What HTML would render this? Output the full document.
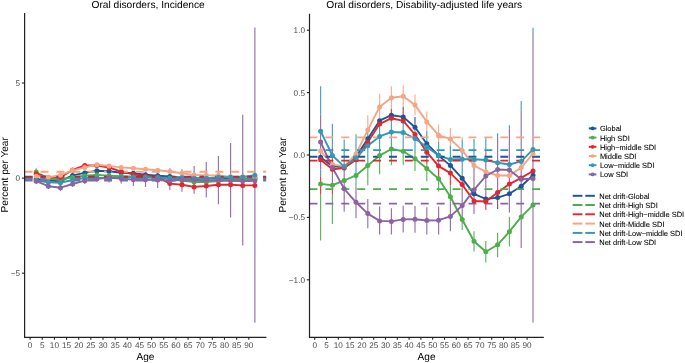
<!DOCTYPE html>
<html><head><meta charset="utf-8">
<style>
html,body{margin:0;padding:0;background:#fff;}
body{width:685px;height:363px;overflow:hidden;}
svg{display:block;will-change:transform;}
text{font-family:"Liberation Sans",sans-serif;text-rendering:geometricPrecision;}
.tk{font-size:8.2px;fill:#4d4d4d;}
.lg{font-size:7.48px;fill:#000;stroke:#000;stroke-width:0.07px;}
.ti{font-size:10.2px;fill:#000;}
.at{font-size:10.1px;fill:#000;}
</style></head><body>
<svg width="685" height="363" viewBox="0 0 685 363">
<rect width="685" height="363" fill="#fff"/>
<defs>
<clipPath id="cl"><rect x="24.6" y="13.1" width="241.8" height="323.7"/></clipPath>
<clipPath id="cr"><rect x="309.5" y="13.7" width="234.3" height="323.3"/></clipPath>
</defs>
<g clip-path="url(#cl)">
<line x1="36.18" y1="168.2" x2="36.18" y2="172.3" stroke="#62b860" stroke-width="1.2"/>
<line x1="36.18" y1="172.3" x2="36.18" y2="174.7" stroke="#e54046" stroke-width="1.2"/>
<line x1="36.18" y1="174.7" x2="36.18" y2="177" stroke="#f6b093" stroke-width="1.2"/>
<line x1="36.18" y1="177" x2="36.18" y2="184" stroke="#9876ad" stroke-width="1.2"/>
<line x1="48.33" y1="179" x2="48.33" y2="180.8" stroke="#62b860" stroke-width="1.2"/>
<line x1="48.33" y1="178.7" x2="48.33" y2="179" stroke="#e54046" stroke-width="1.2"/>
<line x1="48.33" y1="175.7" x2="48.33" y2="178.7" stroke="#f6b093" stroke-width="1.2"/>
<line x1="48.33" y1="180.8" x2="48.33" y2="183" stroke="#4ba5bc" stroke-width="1.2"/>
<line x1="48.33" y1="183" x2="48.33" y2="189" stroke="#9876ad" stroke-width="1.2"/>
<line x1="60.48" y1="178.7" x2="60.48" y2="181.3" stroke="#62b860" stroke-width="1.2"/>
<line x1="60.48" y1="176.7" x2="60.48" y2="178.7" stroke="#e54046" stroke-width="1.2"/>
<line x1="60.48" y1="173.7" x2="60.48" y2="176.7" stroke="#f6b093" stroke-width="1.2"/>
<line x1="60.48" y1="181.3" x2="60.48" y2="184" stroke="#4ba5bc" stroke-width="1.2"/>
<line x1="60.48" y1="184" x2="60.48" y2="191" stroke="#9876ad" stroke-width="1.2"/>
<line x1="72.62" y1="173.9" x2="72.62" y2="175" stroke="#3969a3" stroke-width="1.2"/>
<line x1="72.62" y1="175" x2="72.62" y2="178.5" stroke="#62b860" stroke-width="1.2"/>
<line x1="72.62" y1="168.5" x2="72.62" y2="168.8" stroke="#e54046" stroke-width="1.2"/>
<line x1="72.62" y1="168.8" x2="72.62" y2="171.8" stroke="#f6b093" stroke-width="1.2"/>
<line x1="72.62" y1="178.5" x2="72.62" y2="181" stroke="#4ba5bc" stroke-width="1.2"/>
<line x1="72.62" y1="181" x2="72.62" y2="187" stroke="#9876ad" stroke-width="1.2"/>
<line x1="84.78" y1="171.4" x2="84.78" y2="174.4" stroke="#3969a3" stroke-width="1.2"/>
<line x1="84.78" y1="174.5" x2="84.78" y2="176.5" stroke="#62b860" stroke-width="1.2"/>
<line x1="84.78" y1="164" x2="84.78" y2="165.9" stroke="#e54046" stroke-width="1.2"/>
<line x1="84.78" y1="165.9" x2="84.78" y2="168.9" stroke="#f6b093" stroke-width="1.2"/>
<line x1="84.78" y1="176.5" x2="84.78" y2="179" stroke="#4ba5bc" stroke-width="1.2"/>
<line x1="84.78" y1="179" x2="84.78" y2="184" stroke="#9876ad" stroke-width="1.2"/>
<line x1="96.93" y1="169.3" x2="96.93" y2="172.3" stroke="#3969a3" stroke-width="1.2"/>
<line x1="96.93" y1="173" x2="96.93" y2="176.4" stroke="#62b860" stroke-width="1.2"/>
<line x1="96.93" y1="166.2" x2="96.93" y2="167" stroke="#e54046" stroke-width="1.2"/>
<line x1="96.93" y1="163.2" x2="96.93" y2="166.2" stroke="#f6b093" stroke-width="1.2"/>
<line x1="96.93" y1="176.4" x2="96.93" y2="176.5" stroke="#4ba5bc" stroke-width="1.2"/>
<line x1="96.93" y1="176.5" x2="96.93" y2="182" stroke="#9876ad" stroke-width="1.2"/>
<line x1="109.08" y1="169.7" x2="109.08" y2="172.7" stroke="#3969a3" stroke-width="1.2"/>
<line x1="109.08" y1="174" x2="109.08" y2="175" stroke="#62b860" stroke-width="1.2"/>
<line x1="109.08" y1="167.4" x2="109.08" y2="169" stroke="#e54046" stroke-width="1.2"/>
<line x1="109.08" y1="164.4" x2="109.08" y2="167.4" stroke="#f6b093" stroke-width="1.2"/>
<line x1="109.08" y1="175" x2="109.08" y2="182.6" stroke="#9876ad" stroke-width="1.2"/>
<line x1="121.22" y1="173.1" x2="121.22" y2="173.5" stroke="#3969a3" stroke-width="1.2"/>
<line x1="121.22" y1="170.1" x2="121.22" y2="173.1" stroke="#e54046" stroke-width="1.2"/>
<line x1="121.22" y1="165.9" x2="121.22" y2="168.9" stroke="#f6b093" stroke-width="1.2"/>
<line x1="121.22" y1="173.5" x2="121.22" y2="183.5" stroke="#9876ad" stroke-width="1.2"/>
<line x1="133.38" y1="171.8" x2="133.38" y2="172.9" stroke="#3969a3" stroke-width="1.2"/>
<line x1="133.38" y1="172.9" x2="133.38" y2="173" stroke="#e54046" stroke-width="1.2"/>
<line x1="133.38" y1="166.8" x2="133.38" y2="169.8" stroke="#f6b093" stroke-width="1.2"/>
<line x1="133.38" y1="173" x2="133.38" y2="186" stroke="#9876ad" stroke-width="1.2"/>
<line x1="145.53" y1="167.8" x2="145.53" y2="170.8" stroke="#f6b093" stroke-width="1.2"/>
<line x1="145.53" y1="172.5" x2="145.53" y2="187" stroke="#9876ad" stroke-width="1.2"/>
<line x1="157.68" y1="168.8" x2="157.68" y2="171" stroke="#f6b093" stroke-width="1.2"/>
<line x1="157.68" y1="171" x2="157.68" y2="188" stroke="#9876ad" stroke-width="1.2"/>
<line x1="169.83" y1="168.2" x2="169.83" y2="190" stroke="#9876ad" stroke-width="1.2"/>
<line x1="181.97" y1="169.2" x2="181.97" y2="191.8" stroke="#9876ad" stroke-width="1.2"/>
<line x1="194.12" y1="166" x2="194.12" y2="193.8" stroke="#9876ad" stroke-width="1.2"/>
<line x1="206.28" y1="162.1" x2="206.28" y2="197.5" stroke="#9876ad" stroke-width="1.2"/>
<line x1="218.43" y1="155.9" x2="218.43" y2="204.3" stroke="#9876ad" stroke-width="1.2"/>
<line x1="230.58" y1="143" x2="230.58" y2="217.5" stroke="#9876ad" stroke-width="1.2"/>
<line x1="242.72" y1="114.8" x2="242.72" y2="245.5" stroke="#9876ad" stroke-width="1.2"/>
<line x1="254.88" y1="27.4" x2="254.88" y2="322.7" stroke="#9876ad" stroke-width="1.2"/>
<polyline points="36.18,179 48.33,180.6 60.48,181.2 72.62,175.4 84.78,172.9 96.93,170.8 109.08,171.2 121.22,172.8 133.38,173.3 145.53,174.7 157.68,175.7 169.83,176.5 181.97,177.6 194.12,178.3 206.28,178.5 218.43,178.5 230.58,178.5 242.72,178.5 254.88,178.5" fill="none" stroke="#1e5597" stroke-width="1.9" stroke-linejoin="round"/>
<polyline points="36.18,172 48.33,178.7 60.48,179.5 72.62,177.4 84.78,175.8 96.93,174.9 109.08,175.8 121.22,176.3 133.38,176.5 145.53,177 157.68,178 169.83,179 181.97,180.5 194.12,182 206.28,182 218.43,181 230.58,180 242.72,179 254.88,178.5" fill="none" stroke="#4dae4a" stroke-width="1.9" stroke-linejoin="round"/>
<polyline points="36.18,173.8 48.33,177.5 60.48,177.2 72.62,170 84.78,165.5 96.93,165.5 109.08,167.5 121.22,171.6 133.38,174.4 145.53,176 157.68,176.9 169.83,183.6 181.97,184.7 194.12,186.9 206.28,186 218.43,184.7 230.58,184.8 242.72,185.4 254.88,185.4" fill="none" stroke="#e2262d" stroke-width="1.9" stroke-linejoin="round"/>
<polyline points="36.18,176.2 48.33,177.2 60.48,175.2 72.62,170.3 84.78,167.4 96.93,164.7 109.08,165.9 121.22,167.4 133.38,168.3 145.53,169.3 157.68,170.3 169.83,171.5 181.97,173.2 194.12,175 206.28,175.4 218.43,175.4 230.58,176.6 242.72,176.8 254.88,176.8" fill="none" stroke="#f5a584" stroke-width="1.9" stroke-linejoin="round"/>
<polyline points="36.18,180.5 48.33,182.3 60.48,182.8 72.62,180 84.78,178 96.93,177.9 109.08,177.9 121.22,177.6 133.38,177.2 145.53,177.2 157.68,177.5 169.83,178 181.97,178.1 194.12,178.3 206.28,178.3 218.43,177.3 230.58,177.2 242.72,176.9 254.88,175.2" fill="none" stroke="#3399b3" stroke-width="1.9" stroke-linejoin="round"/>
<polyline points="36.18,181.2 48.33,186.2 60.48,187.7 72.62,184 84.78,180.7 96.93,178.7 109.08,177.8 121.22,178.6 133.38,179.8 145.53,179.8 157.68,180 169.83,180.7 181.97,179.8 194.12,180 206.28,180.2 218.43,180.2 230.58,180.7 242.72,181 254.88,180.7" fill="none" stroke="#8a63a2" stroke-width="1.9" stroke-linejoin="round"/>
<line x1="24.6" y1="176.8" x2="266.4" y2="176.8" stroke="#1e5597" stroke-width="1.9" stroke-dasharray="7.95 7.95"/>
<line x1="24.6" y1="178.3" x2="266.4" y2="178.3" stroke="#4dae4a" stroke-width="1.9" stroke-dasharray="7.95 7.95"/>
<line x1="24.6" y1="177.5" x2="266.4" y2="177.5" stroke="#e2262d" stroke-width="1.9" stroke-dasharray="7.95 7.95"/>
<line x1="24.6" y1="171.8" x2="266.4" y2="171.8" stroke="#f5a584" stroke-width="1.9" stroke-dasharray="7.95 7.95"/>
<line x1="24.6" y1="179.3" x2="266.4" y2="179.3" stroke="#3399b3" stroke-width="1.9" stroke-dasharray="7.95 7.95"/>
<line x1="24.6" y1="180.6" x2="266.4" y2="180.6" stroke="#8a63a2" stroke-width="1.9" stroke-dasharray="7.95 7.95"/>
<circle cx="36.18" cy="179" r="2.5" fill="#1e5597"/>
<circle cx="48.33" cy="180.6" r="2.5" fill="#1e5597"/>
<circle cx="60.48" cy="181.2" r="2.5" fill="#1e5597"/>
<circle cx="72.62" cy="175.4" r="2.5" fill="#1e5597"/>
<circle cx="84.78" cy="172.9" r="2.5" fill="#1e5597"/>
<circle cx="96.93" cy="170.8" r="2.5" fill="#1e5597"/>
<circle cx="109.08" cy="171.2" r="2.5" fill="#1e5597"/>
<circle cx="121.22" cy="172.8" r="2.5" fill="#1e5597"/>
<circle cx="133.38" cy="173.3" r="2.5" fill="#1e5597"/>
<circle cx="145.53" cy="174.7" r="2.5" fill="#1e5597"/>
<circle cx="157.68" cy="175.7" r="2.5" fill="#1e5597"/>
<circle cx="169.83" cy="176.5" r="2.5" fill="#1e5597"/>
<circle cx="181.97" cy="177.6" r="2.5" fill="#1e5597"/>
<circle cx="194.12" cy="178.3" r="2.5" fill="#1e5597"/>
<circle cx="206.28" cy="178.5" r="2.5" fill="#1e5597"/>
<circle cx="218.43" cy="178.5" r="2.5" fill="#1e5597"/>
<circle cx="230.58" cy="178.5" r="2.5" fill="#1e5597"/>
<circle cx="242.72" cy="178.5" r="2.5" fill="#1e5597"/>
<circle cx="254.88" cy="178.5" r="2.5" fill="#1e5597"/>
<circle cx="36.18" cy="172" r="2.5" fill="#4dae4a"/>
<circle cx="48.33" cy="178.7" r="2.5" fill="#4dae4a"/>
<circle cx="60.48" cy="179.5" r="2.5" fill="#4dae4a"/>
<circle cx="72.62" cy="177.4" r="2.5" fill="#4dae4a"/>
<circle cx="84.78" cy="175.8" r="2.5" fill="#4dae4a"/>
<circle cx="96.93" cy="174.9" r="2.5" fill="#4dae4a"/>
<circle cx="109.08" cy="175.8" r="2.5" fill="#4dae4a"/>
<circle cx="121.22" cy="176.3" r="2.5" fill="#4dae4a"/>
<circle cx="133.38" cy="176.5" r="2.5" fill="#4dae4a"/>
<circle cx="145.53" cy="177" r="2.5" fill="#4dae4a"/>
<circle cx="157.68" cy="178" r="2.5" fill="#4dae4a"/>
<circle cx="169.83" cy="179" r="2.5" fill="#4dae4a"/>
<circle cx="181.97" cy="180.5" r="2.5" fill="#4dae4a"/>
<circle cx="194.12" cy="182" r="2.5" fill="#4dae4a"/>
<circle cx="206.28" cy="182" r="2.5" fill="#4dae4a"/>
<circle cx="218.43" cy="181" r="2.5" fill="#4dae4a"/>
<circle cx="230.58" cy="180" r="2.5" fill="#4dae4a"/>
<circle cx="242.72" cy="179" r="2.5" fill="#4dae4a"/>
<circle cx="254.88" cy="178.5" r="2.5" fill="#4dae4a"/>
<circle cx="36.18" cy="173.8" r="2.5" fill="#e2262d"/>
<circle cx="48.33" cy="177.5" r="2.5" fill="#e2262d"/>
<circle cx="60.48" cy="177.2" r="2.5" fill="#e2262d"/>
<circle cx="72.62" cy="170" r="2.5" fill="#e2262d"/>
<circle cx="84.78" cy="165.5" r="2.5" fill="#e2262d"/>
<circle cx="96.93" cy="165.5" r="2.5" fill="#e2262d"/>
<circle cx="109.08" cy="167.5" r="2.5" fill="#e2262d"/>
<circle cx="121.22" cy="171.6" r="2.5" fill="#e2262d"/>
<circle cx="133.38" cy="174.4" r="2.5" fill="#e2262d"/>
<circle cx="145.53" cy="176" r="2.5" fill="#e2262d"/>
<circle cx="157.68" cy="176.9" r="2.5" fill="#e2262d"/>
<circle cx="169.83" cy="183.6" r="2.5" fill="#e2262d"/>
<circle cx="181.97" cy="184.7" r="2.5" fill="#e2262d"/>
<circle cx="194.12" cy="186.9" r="2.5" fill="#e2262d"/>
<circle cx="206.28" cy="186" r="2.5" fill="#e2262d"/>
<circle cx="218.43" cy="184.7" r="2.5" fill="#e2262d"/>
<circle cx="230.58" cy="184.8" r="2.5" fill="#e2262d"/>
<circle cx="242.72" cy="185.4" r="2.5" fill="#e2262d"/>
<circle cx="254.88" cy="185.4" r="2.5" fill="#e2262d"/>
<circle cx="36.18" cy="176.2" r="2.5" fill="#f5a584"/>
<circle cx="48.33" cy="177.2" r="2.5" fill="#f5a584"/>
<circle cx="60.48" cy="175.2" r="2.5" fill="#f5a584"/>
<circle cx="72.62" cy="170.3" r="2.5" fill="#f5a584"/>
<circle cx="84.78" cy="167.4" r="2.5" fill="#f5a584"/>
<circle cx="96.93" cy="164.7" r="2.5" fill="#f5a584"/>
<circle cx="109.08" cy="165.9" r="2.5" fill="#f5a584"/>
<circle cx="121.22" cy="167.4" r="2.5" fill="#f5a584"/>
<circle cx="133.38" cy="168.3" r="2.5" fill="#f5a584"/>
<circle cx="145.53" cy="169.3" r="2.5" fill="#f5a584"/>
<circle cx="157.68" cy="170.3" r="2.5" fill="#f5a584"/>
<circle cx="169.83" cy="171.5" r="2.5" fill="#f5a584"/>
<circle cx="181.97" cy="173.2" r="2.5" fill="#f5a584"/>
<circle cx="194.12" cy="175" r="2.5" fill="#f5a584"/>
<circle cx="206.28" cy="175.4" r="2.5" fill="#f5a584"/>
<circle cx="218.43" cy="175.4" r="2.5" fill="#f5a584"/>
<circle cx="230.58" cy="176.6" r="2.5" fill="#f5a584"/>
<circle cx="242.72" cy="176.8" r="2.5" fill="#f5a584"/>
<circle cx="254.88" cy="176.8" r="2.5" fill="#f5a584"/>
<circle cx="36.18" cy="180.5" r="2.5" fill="#3399b3"/>
<circle cx="48.33" cy="182.3" r="2.5" fill="#3399b3"/>
<circle cx="60.48" cy="182.8" r="2.5" fill="#3399b3"/>
<circle cx="72.62" cy="180" r="2.5" fill="#3399b3"/>
<circle cx="84.78" cy="178" r="2.5" fill="#3399b3"/>
<circle cx="96.93" cy="177.9" r="2.5" fill="#3399b3"/>
<circle cx="109.08" cy="177.9" r="2.5" fill="#3399b3"/>
<circle cx="121.22" cy="177.6" r="2.5" fill="#3399b3"/>
<circle cx="133.38" cy="177.2" r="2.5" fill="#3399b3"/>
<circle cx="145.53" cy="177.2" r="2.5" fill="#3399b3"/>
<circle cx="157.68" cy="177.5" r="2.5" fill="#3399b3"/>
<circle cx="169.83" cy="178" r="2.5" fill="#3399b3"/>
<circle cx="181.97" cy="178.1" r="2.5" fill="#3399b3"/>
<circle cx="194.12" cy="178.3" r="2.5" fill="#3399b3"/>
<circle cx="206.28" cy="178.3" r="2.5" fill="#3399b3"/>
<circle cx="218.43" cy="177.3" r="2.5" fill="#3399b3"/>
<circle cx="230.58" cy="177.2" r="2.5" fill="#3399b3"/>
<circle cx="242.72" cy="176.9" r="2.5" fill="#3399b3"/>
<circle cx="254.88" cy="175.2" r="2.5" fill="#3399b3"/>
<circle cx="36.18" cy="181.2" r="2.5" fill="#8a63a2"/>
<circle cx="48.33" cy="186.2" r="2.5" fill="#8a63a2"/>
<circle cx="60.48" cy="187.7" r="2.5" fill="#8a63a2"/>
<circle cx="72.62" cy="184" r="2.5" fill="#8a63a2"/>
<circle cx="84.78" cy="180.7" r="2.5" fill="#8a63a2"/>
<circle cx="96.93" cy="178.7" r="2.5" fill="#8a63a2"/>
<circle cx="109.08" cy="177.8" r="2.5" fill="#8a63a2"/>
<circle cx="121.22" cy="178.6" r="2.5" fill="#8a63a2"/>
<circle cx="133.38" cy="179.8" r="2.5" fill="#8a63a2"/>
<circle cx="145.53" cy="179.8" r="2.5" fill="#8a63a2"/>
<circle cx="157.68" cy="180" r="2.5" fill="#8a63a2"/>
<circle cx="169.83" cy="180.7" r="2.5" fill="#8a63a2"/>
<circle cx="181.97" cy="179.8" r="2.5" fill="#8a63a2"/>
<circle cx="194.12" cy="180" r="2.5" fill="#8a63a2"/>
<circle cx="206.28" cy="180.2" r="2.5" fill="#8a63a2"/>
<circle cx="218.43" cy="180.2" r="2.5" fill="#8a63a2"/>
<circle cx="230.58" cy="180.7" r="2.5" fill="#8a63a2"/>
<circle cx="242.72" cy="181" r="2.5" fill="#8a63a2"/>
<circle cx="254.88" cy="180.7" r="2.5" fill="#8a63a2"/>
</g>
<g clip-path="url(#cr)">
<line x1="320.6" y1="193.9" x2="320.6" y2="240.4" stroke="#62b860" stroke-width="1.2"/>
<line x1="320.6" y1="176.2" x2="320.6" y2="193.9" stroke="#e54046" stroke-width="1.2"/>
<line x1="320.6" y1="86.2" x2="320.6" y2="114.4" stroke="#4ba5bc" stroke-width="1.2"/>
<line x1="320.6" y1="169.6" x2="320.6" y2="176.2" stroke="#4ba5bc" stroke-width="1.2"/>
<line x1="320.6" y1="114.4" x2="320.6" y2="169.6" stroke="#9876ad" stroke-width="1.2"/>
<line x1="332.4" y1="193.9" x2="332.4" y2="224" stroke="#62b860" stroke-width="1.2"/>
<line x1="332.4" y1="189" x2="332.4" y2="193.9" stroke="#e54046" stroke-width="1.2"/>
<line x1="332.4" y1="123.8" x2="332.4" y2="146.3" stroke="#4ba5bc" stroke-width="1.2"/>
<line x1="332.4" y1="146.3" x2="332.4" y2="189" stroke="#9876ad" stroke-width="1.2"/>
<line x1="344.2" y1="211.6" x2="344.2" y2="211.8" stroke="#62b860" stroke-width="1.2"/>
<line x1="344.2" y1="139.4" x2="344.2" y2="166" stroke="#4ba5bc" stroke-width="1.2"/>
<line x1="344.2" y1="166" x2="344.2" y2="211.6" stroke="#9876ad" stroke-width="1.2"/>
<line x1="356" y1="181.2" x2="356" y2="186.5" stroke="#62b860" stroke-width="1.2"/>
<line x1="356" y1="134" x2="356" y2="134.2" stroke="#f6b093" stroke-width="1.2"/>
<line x1="356" y1="134.2" x2="356" y2="181.2" stroke="#4ba5bc" stroke-width="1.2"/>
<line x1="356" y1="186.5" x2="356" y2="218.2" stroke="#9876ad" stroke-width="1.2"/>
<line x1="367.8" y1="163" x2="367.8" y2="185.2" stroke="#62b860" stroke-width="1.2"/>
<line x1="367.8" y1="115.2" x2="367.8" y2="128" stroke="#f6b093" stroke-width="1.2"/>
<line x1="367.8" y1="128" x2="367.8" y2="163" stroke="#4ba5bc" stroke-width="1.2"/>
<line x1="367.8" y1="199.1" x2="367.8" y2="228.3" stroke="#9876ad" stroke-width="1.2"/>
<line x1="379.6" y1="152" x2="379.6" y2="174.3" stroke="#62b860" stroke-width="1.2"/>
<line x1="379.6" y1="120.1" x2="379.6" y2="121" stroke="#e54046" stroke-width="1.2"/>
<line x1="379.6" y1="93.7" x2="379.6" y2="120.1" stroke="#f6b093" stroke-width="1.2"/>
<line x1="379.6" y1="121" x2="379.6" y2="152" stroke="#4ba5bc" stroke-width="1.2"/>
<line x1="379.6" y1="206.5" x2="379.6" y2="234.6" stroke="#9876ad" stroke-width="1.2"/>
<line x1="391.4" y1="147" x2="391.4" y2="165.2" stroke="#62b860" stroke-width="1.2"/>
<line x1="391.4" y1="109.1" x2="391.4" y2="117" stroke="#e54046" stroke-width="1.2"/>
<line x1="391.4" y1="86.3" x2="391.4" y2="109.1" stroke="#f6b093" stroke-width="1.2"/>
<line x1="391.4" y1="117" x2="391.4" y2="147" stroke="#4ba5bc" stroke-width="1.2"/>
<line x1="391.4" y1="208.2" x2="391.4" y2="234.6" stroke="#9876ad" stroke-width="1.2"/>
<line x1="403.2" y1="107.1" x2="403.2" y2="110" stroke="#3969a3" stroke-width="1.2"/>
<line x1="403.2" y1="148" x2="403.2" y2="165.2" stroke="#62b860" stroke-width="1.2"/>
<line x1="403.2" y1="110" x2="403.2" y2="117" stroke="#e54046" stroke-width="1.2"/>
<line x1="403.2" y1="85.3" x2="403.2" y2="107.1" stroke="#f6b093" stroke-width="1.2"/>
<line x1="403.2" y1="117" x2="403.2" y2="148" stroke="#4ba5bc" stroke-width="1.2"/>
<line x1="403.2" y1="205.7" x2="403.2" y2="232.6" stroke="#9876ad" stroke-width="1.2"/>
<line x1="415" y1="117" x2="415" y2="123" stroke="#3969a3" stroke-width="1.2"/>
<line x1="415" y1="153" x2="415" y2="171" stroke="#62b860" stroke-width="1.2"/>
<line x1="415" y1="123" x2="415" y2="124" stroke="#e54046" stroke-width="1.2"/>
<line x1="415" y1="94.5" x2="415" y2="115.3" stroke="#f6b093" stroke-width="1.2"/>
<line x1="415" y1="124" x2="415" y2="153" stroke="#4ba5bc" stroke-width="1.2"/>
<line x1="415" y1="206" x2="415" y2="232.8" stroke="#9876ad" stroke-width="1.2"/>
<line x1="426.8" y1="164.4" x2="426.8" y2="181.2" stroke="#62b860" stroke-width="1.2"/>
<line x1="426.8" y1="161" x2="426.8" y2="164.4" stroke="#e54046" stroke-width="1.2"/>
<line x1="426.8" y1="111.5" x2="426.8" y2="131" stroke="#f6b093" stroke-width="1.2"/>
<line x1="426.8" y1="131" x2="426.8" y2="161" stroke="#4ba5bc" stroke-width="1.2"/>
<line x1="426.8" y1="207.3" x2="426.8" y2="234.5" stroke="#9876ad" stroke-width="1.2"/>
<line x1="438.6" y1="178.2" x2="438.6" y2="191.6" stroke="#62b860" stroke-width="1.2"/>
<line x1="438.6" y1="169" x2="438.6" y2="178.2" stroke="#e54046" stroke-width="1.2"/>
<line x1="438.6" y1="124.4" x2="438.6" y2="142" stroke="#f6b093" stroke-width="1.2"/>
<line x1="438.6" y1="142" x2="438.6" y2="169" stroke="#4ba5bc" stroke-width="1.2"/>
<line x1="438.6" y1="206.4" x2="438.6" y2="234.5" stroke="#9876ad" stroke-width="1.2"/>
<line x1="450.4" y1="185.2" x2="450.4" y2="201.6" stroke="#62b860" stroke-width="1.2"/>
<line x1="450.4" y1="173.5" x2="450.4" y2="185.2" stroke="#e54046" stroke-width="1.2"/>
<line x1="450.4" y1="128.1" x2="450.4" y2="145.5" stroke="#f6b093" stroke-width="1.2"/>
<line x1="450.4" y1="145.5" x2="450.4" y2="173.5" stroke="#4ba5bc" stroke-width="1.2"/>
<line x1="450.4" y1="201.6" x2="450.4" y2="231.2" stroke="#9876ad" stroke-width="1.2"/>
<line x1="462.2" y1="224.6" x2="462.2" y2="229.9" stroke="#62b860" stroke-width="1.2"/>
<line x1="462.2" y1="178.7" x2="462.2" y2="186.6" stroke="#e54046" stroke-width="1.2"/>
<line x1="462.2" y1="137" x2="462.2" y2="139.9" stroke="#f6b093" stroke-width="1.2"/>
<line x1="462.2" y1="139.9" x2="462.2" y2="178.7" stroke="#4ba5bc" stroke-width="1.2"/>
<line x1="462.2" y1="186.6" x2="462.2" y2="224.6" stroke="#9876ad" stroke-width="1.2"/>
<line x1="474" y1="231.2" x2="474" y2="251.5" stroke="#62b860" stroke-width="1.2"/>
<line x1="474" y1="213.8" x2="474" y2="214" stroke="#e54046" stroke-width="1.2"/>
<line x1="474" y1="139" x2="474" y2="166" stroke="#4ba5bc" stroke-width="1.2"/>
<line x1="474" y1="166" x2="474" y2="213.8" stroke="#9876ad" stroke-width="1.2"/>
<line x1="485.8" y1="209.7" x2="485.8" y2="210" stroke="#3969a3" stroke-width="1.2"/>
<line x1="485.8" y1="240.9" x2="485.8" y2="262.4" stroke="#62b860" stroke-width="1.2"/>
<line x1="485.8" y1="199.7" x2="485.8" y2="209.7" stroke="#e54046" stroke-width="1.2"/>
<line x1="485.8" y1="138.2" x2="485.8" y2="152.3" stroke="#4ba5bc" stroke-width="1.2"/>
<line x1="485.8" y1="152.3" x2="485.8" y2="199.7" stroke="#9876ad" stroke-width="1.2"/>
<line x1="497.6" y1="205" x2="497.6" y2="209" stroke="#3969a3" stroke-width="1.2"/>
<line x1="497.6" y1="232.8" x2="497.6" y2="257.2" stroke="#62b860" stroke-width="1.2"/>
<line x1="497.6" y1="200" x2="497.6" y2="205" stroke="#e54046" stroke-width="1.2"/>
<line x1="497.6" y1="133.3" x2="497.6" y2="139" stroke="#4ba5bc" stroke-width="1.2"/>
<line x1="497.6" y1="139" x2="497.6" y2="200" stroke="#9876ad" stroke-width="1.2"/>
<line x1="509.4" y1="216.8" x2="509.4" y2="246.6" stroke="#62b860" stroke-width="1.2"/>
<line x1="509.4" y1="125.2" x2="509.4" y2="128.2" stroke="#4ba5bc" stroke-width="1.2"/>
<line x1="509.4" y1="128.2" x2="509.4" y2="212.5" stroke="#9876ad" stroke-width="1.2"/>
<line x1="521.2" y1="100.9" x2="521.2" y2="110.5" stroke="#4ba5bc" stroke-width="1.2"/>
<line x1="521.2" y1="110.5" x2="521.2" y2="248" stroke="#9876ad" stroke-width="1.2"/>
<line x1="533" y1="27.8" x2="533" y2="33" stroke="#4ba5bc" stroke-width="1.2"/>
<line x1="533" y1="33" x2="533" y2="322.5" stroke="#9876ad" stroke-width="1.2"/>
<polyline points="320.6,157.2 332.4,166.3 344.2,167.1 356,156.7 367.8,138.7 379.6,120.7 391.4,115.2 403.2,116.9 415,127.3 426.8,143.7 438.6,155.6 450.4,165.6 462.2,178.3 474,193.8 485.8,199 497.6,197.6 509.4,193.8 521.2,186.2 533,175.2" fill="none" stroke="#1e5597" stroke-width="1.9" stroke-linejoin="round"/>
<polyline points="320.6,183.9 332.4,185.2 344.2,180.5 356,175.4 367.8,165.6 379.6,155.6 391.4,149 403.2,151.2 415,158.8 426.8,168.6 438.6,178.8 450.4,196.8 462.2,219.5 474,241.2 485.8,251.7 497.6,244.8 509.4,231.7 521.2,216.9 533,205.1" fill="none" stroke="#4dae4a" stroke-width="1.9" stroke-linejoin="round"/>
<polyline points="320.6,159.7 332.4,169.3 344.2,168 356,159.7 367.8,142 379.6,124.1 391.4,118.2 403.2,120.9 415,134.5 426.8,152.2 438.6,166.1 450.4,173.1 462.2,184.6 474,201 485.8,201.5 497.6,192.5 509.4,184.1 521.2,177.9 533,171" fill="none" stroke="#e2262d" stroke-width="1.9" stroke-linejoin="round"/>
<polyline points="320.6,151 332.4,164.6 344.2,166.3 356,154 367.8,130.1 379.6,106.9 391.4,97.7 403.2,96.2 415,104.9 426.8,121.9 438.6,135.2 450.4,139.1 462.2,150.4 474,165.5 485.8,171.8 497.6,175.5 509.4,175.5 521.2,167.6 533,153.7" fill="none" stroke="#f5a584" stroke-width="1.9" stroke-linejoin="round"/>
<polyline points="320.6,131.2 332.4,155.5 344.2,166.6 356,157.7 367.8,145.7 379.6,136.4 391.4,132 403.2,132.5 415,138.5 426.8,147 438.6,155.4 450.4,159.5 462.2,159.3 474,159.2 485.8,160 497.6,162.7 509.4,164.5 521.2,161.4 533,149.4" fill="none" stroke="#3399b3" stroke-width="1.9" stroke-linejoin="round"/>
<polyline points="320.6,142 332.4,167.6 344.2,188.8 356,202.3 367.8,213.6 379.6,220.9 391.4,221.4 403.2,219.4 415,219.3 426.8,220.5 438.6,220.2 450.4,216.4 462.2,205.6 474,189.9 485.8,176 497.6,169.5 509.4,170 521.2,179.3 533,178.6" fill="none" stroke="#8a63a2" stroke-width="1.9" stroke-linejoin="round"/>
<line x1="309.5" y1="156.7" x2="543.8" y2="156.7" stroke="#1e5597" stroke-width="1.9" stroke-dasharray="7.95 7.95"/>
<line x1="309.5" y1="189.1" x2="543.8" y2="189.1" stroke="#4dae4a" stroke-width="1.9" stroke-dasharray="7.95 7.95"/>
<line x1="309.5" y1="160.6" x2="543.8" y2="160.6" stroke="#e2262d" stroke-width="1.9" stroke-dasharray="7.95 7.95"/>
<line x1="309.5" y1="137.4" x2="543.8" y2="137.4" stroke="#f5a584" stroke-width="1.9" stroke-dasharray="7.95 7.95"/>
<line x1="309.5" y1="150.1" x2="543.8" y2="150.1" stroke="#3399b3" stroke-width="1.9" stroke-dasharray="7.95 7.95"/>
<line x1="309.5" y1="203.6" x2="543.8" y2="203.6" stroke="#8a63a2" stroke-width="1.9" stroke-dasharray="7.95 7.95"/>
<circle cx="320.6" cy="157.2" r="2.5" fill="#1e5597"/>
<circle cx="332.4" cy="166.3" r="2.5" fill="#1e5597"/>
<circle cx="344.2" cy="167.1" r="2.5" fill="#1e5597"/>
<circle cx="356" cy="156.7" r="2.5" fill="#1e5597"/>
<circle cx="367.8" cy="138.7" r="2.5" fill="#1e5597"/>
<circle cx="379.6" cy="120.7" r="2.5" fill="#1e5597"/>
<circle cx="391.4" cy="115.2" r="2.5" fill="#1e5597"/>
<circle cx="403.2" cy="116.9" r="2.5" fill="#1e5597"/>
<circle cx="415" cy="127.3" r="2.5" fill="#1e5597"/>
<circle cx="426.8" cy="143.7" r="2.5" fill="#1e5597"/>
<circle cx="438.6" cy="155.6" r="2.5" fill="#1e5597"/>
<circle cx="450.4" cy="165.6" r="2.5" fill="#1e5597"/>
<circle cx="462.2" cy="178.3" r="2.5" fill="#1e5597"/>
<circle cx="474" cy="193.8" r="2.5" fill="#1e5597"/>
<circle cx="485.8" cy="199" r="2.5" fill="#1e5597"/>
<circle cx="497.6" cy="197.6" r="2.5" fill="#1e5597"/>
<circle cx="509.4" cy="193.8" r="2.5" fill="#1e5597"/>
<circle cx="521.2" cy="186.2" r="2.5" fill="#1e5597"/>
<circle cx="533" cy="175.2" r="2.5" fill="#1e5597"/>
<circle cx="320.6" cy="183.9" r="2.5" fill="#4dae4a"/>
<circle cx="332.4" cy="185.2" r="2.5" fill="#4dae4a"/>
<circle cx="344.2" cy="180.5" r="2.5" fill="#4dae4a"/>
<circle cx="356" cy="175.4" r="2.5" fill="#4dae4a"/>
<circle cx="367.8" cy="165.6" r="2.5" fill="#4dae4a"/>
<circle cx="379.6" cy="155.6" r="2.5" fill="#4dae4a"/>
<circle cx="391.4" cy="149" r="2.5" fill="#4dae4a"/>
<circle cx="403.2" cy="151.2" r="2.5" fill="#4dae4a"/>
<circle cx="415" cy="158.8" r="2.5" fill="#4dae4a"/>
<circle cx="426.8" cy="168.6" r="2.5" fill="#4dae4a"/>
<circle cx="438.6" cy="178.8" r="2.5" fill="#4dae4a"/>
<circle cx="450.4" cy="196.8" r="2.5" fill="#4dae4a"/>
<circle cx="462.2" cy="219.5" r="2.5" fill="#4dae4a"/>
<circle cx="474" cy="241.2" r="2.5" fill="#4dae4a"/>
<circle cx="485.8" cy="251.7" r="2.5" fill="#4dae4a"/>
<circle cx="497.6" cy="244.8" r="2.5" fill="#4dae4a"/>
<circle cx="509.4" cy="231.7" r="2.5" fill="#4dae4a"/>
<circle cx="521.2" cy="216.9" r="2.5" fill="#4dae4a"/>
<circle cx="533" cy="205.1" r="2.5" fill="#4dae4a"/>
<circle cx="320.6" cy="159.7" r="2.5" fill="#e2262d"/>
<circle cx="332.4" cy="169.3" r="2.5" fill="#e2262d"/>
<circle cx="344.2" cy="168" r="2.5" fill="#e2262d"/>
<circle cx="356" cy="159.7" r="2.5" fill="#e2262d"/>
<circle cx="367.8" cy="142" r="2.5" fill="#e2262d"/>
<circle cx="379.6" cy="124.1" r="2.5" fill="#e2262d"/>
<circle cx="391.4" cy="118.2" r="2.5" fill="#e2262d"/>
<circle cx="403.2" cy="120.9" r="2.5" fill="#e2262d"/>
<circle cx="415" cy="134.5" r="2.5" fill="#e2262d"/>
<circle cx="426.8" cy="152.2" r="2.5" fill="#e2262d"/>
<circle cx="438.6" cy="166.1" r="2.5" fill="#e2262d"/>
<circle cx="450.4" cy="173.1" r="2.5" fill="#e2262d"/>
<circle cx="462.2" cy="184.6" r="2.5" fill="#e2262d"/>
<circle cx="474" cy="201" r="2.5" fill="#e2262d"/>
<circle cx="485.8" cy="201.5" r="2.5" fill="#e2262d"/>
<circle cx="497.6" cy="192.5" r="2.5" fill="#e2262d"/>
<circle cx="509.4" cy="184.1" r="2.5" fill="#e2262d"/>
<circle cx="521.2" cy="177.9" r="2.5" fill="#e2262d"/>
<circle cx="533" cy="171" r="2.5" fill="#e2262d"/>
<circle cx="320.6" cy="151" r="2.5" fill="#f5a584"/>
<circle cx="332.4" cy="164.6" r="2.5" fill="#f5a584"/>
<circle cx="344.2" cy="166.3" r="2.5" fill="#f5a584"/>
<circle cx="356" cy="154" r="2.5" fill="#f5a584"/>
<circle cx="367.8" cy="130.1" r="2.5" fill="#f5a584"/>
<circle cx="379.6" cy="106.9" r="2.5" fill="#f5a584"/>
<circle cx="391.4" cy="97.7" r="2.5" fill="#f5a584"/>
<circle cx="403.2" cy="96.2" r="2.5" fill="#f5a584"/>
<circle cx="415" cy="104.9" r="2.5" fill="#f5a584"/>
<circle cx="426.8" cy="121.9" r="2.5" fill="#f5a584"/>
<circle cx="438.6" cy="135.2" r="2.5" fill="#f5a584"/>
<circle cx="450.4" cy="139.1" r="2.5" fill="#f5a584"/>
<circle cx="462.2" cy="150.4" r="2.5" fill="#f5a584"/>
<circle cx="474" cy="165.5" r="2.5" fill="#f5a584"/>
<circle cx="485.8" cy="171.8" r="2.5" fill="#f5a584"/>
<circle cx="497.6" cy="175.5" r="2.5" fill="#f5a584"/>
<circle cx="509.4" cy="175.5" r="2.5" fill="#f5a584"/>
<circle cx="521.2" cy="167.6" r="2.5" fill="#f5a584"/>
<circle cx="533" cy="153.7" r="2.5" fill="#f5a584"/>
<circle cx="320.6" cy="131.2" r="2.5" fill="#3399b3"/>
<circle cx="332.4" cy="155.5" r="2.5" fill="#3399b3"/>
<circle cx="344.2" cy="166.6" r="2.5" fill="#3399b3"/>
<circle cx="356" cy="157.7" r="2.5" fill="#3399b3"/>
<circle cx="367.8" cy="145.7" r="2.5" fill="#3399b3"/>
<circle cx="379.6" cy="136.4" r="2.5" fill="#3399b3"/>
<circle cx="391.4" cy="132" r="2.5" fill="#3399b3"/>
<circle cx="403.2" cy="132.5" r="2.5" fill="#3399b3"/>
<circle cx="415" cy="138.5" r="2.5" fill="#3399b3"/>
<circle cx="426.8" cy="147" r="2.5" fill="#3399b3"/>
<circle cx="438.6" cy="155.4" r="2.5" fill="#3399b3"/>
<circle cx="450.4" cy="159.5" r="2.5" fill="#3399b3"/>
<circle cx="462.2" cy="159.3" r="2.5" fill="#3399b3"/>
<circle cx="474" cy="159.2" r="2.5" fill="#3399b3"/>
<circle cx="485.8" cy="160" r="2.5" fill="#3399b3"/>
<circle cx="497.6" cy="162.7" r="2.5" fill="#3399b3"/>
<circle cx="509.4" cy="164.5" r="2.5" fill="#3399b3"/>
<circle cx="521.2" cy="161.4" r="2.5" fill="#3399b3"/>
<circle cx="533" cy="149.4" r="2.5" fill="#3399b3"/>
<circle cx="320.6" cy="142" r="2.5" fill="#8a63a2"/>
<circle cx="332.4" cy="167.6" r="2.5" fill="#8a63a2"/>
<circle cx="344.2" cy="188.8" r="2.5" fill="#8a63a2"/>
<circle cx="356" cy="202.3" r="2.5" fill="#8a63a2"/>
<circle cx="367.8" cy="213.6" r="2.5" fill="#8a63a2"/>
<circle cx="379.6" cy="220.9" r="2.5" fill="#8a63a2"/>
<circle cx="391.4" cy="221.4" r="2.5" fill="#8a63a2"/>
<circle cx="403.2" cy="219.4" r="2.5" fill="#8a63a2"/>
<circle cx="415" cy="219.3" r="2.5" fill="#8a63a2"/>
<circle cx="426.8" cy="220.5" r="2.5" fill="#8a63a2"/>
<circle cx="438.6" cy="220.2" r="2.5" fill="#8a63a2"/>
<circle cx="450.4" cy="216.4" r="2.5" fill="#8a63a2"/>
<circle cx="462.2" cy="205.6" r="2.5" fill="#8a63a2"/>
<circle cx="474" cy="189.9" r="2.5" fill="#8a63a2"/>
<circle cx="485.8" cy="176" r="2.5" fill="#8a63a2"/>
<circle cx="497.6" cy="169.5" r="2.5" fill="#8a63a2"/>
<circle cx="509.4" cy="170" r="2.5" fill="#8a63a2"/>
<circle cx="521.2" cy="179.3" r="2.5" fill="#8a63a2"/>
<circle cx="533" cy="178.6" r="2.5" fill="#8a63a2"/>
</g>
<path d="M24.6 13.1V337.4H266.4" fill="none" stroke="#222" stroke-width="1.2"/>
<line x1="21.9" y1="83" x2="24.6" y2="83" stroke="#222" stroke-width="1.1"/>
<text x="20.1" y="85.9" text-anchor="end" class="tk">5</text>
<line x1="21.9" y1="178.1" x2="24.6" y2="178.1" stroke="#222" stroke-width="1.1"/>
<text x="20.1" y="181" text-anchor="end" class="tk">0</text>
<line x1="21.9" y1="273.2" x2="24.6" y2="273.2" stroke="#222" stroke-width="1.1"/>
<text x="20.1" y="276.1" text-anchor="end" class="tk">&#8722;5</text>
<line x1="30.1" y1="337.4" x2="30.1" y2="339.8" stroke="#222" stroke-width="1.1"/>
<text x="30.1" y="347.8" text-anchor="middle" class="tk">0</text>
<line x1="42.25" y1="337.4" x2="42.25" y2="339.8" stroke="#222" stroke-width="1.1"/>
<text x="42.25" y="347.8" text-anchor="middle" class="tk">5</text>
<line x1="54.4" y1="337.4" x2="54.4" y2="339.8" stroke="#222" stroke-width="1.1"/>
<text x="54.4" y="347.8" text-anchor="middle" class="tk">10</text>
<line x1="66.55" y1="337.4" x2="66.55" y2="339.8" stroke="#222" stroke-width="1.1"/>
<text x="66.55" y="347.8" text-anchor="middle" class="tk">15</text>
<line x1="78.7" y1="337.4" x2="78.7" y2="339.8" stroke="#222" stroke-width="1.1"/>
<text x="78.7" y="347.8" text-anchor="middle" class="tk">20</text>
<line x1="90.85" y1="337.4" x2="90.85" y2="339.8" stroke="#222" stroke-width="1.1"/>
<text x="90.85" y="347.8" text-anchor="middle" class="tk">25</text>
<line x1="103" y1="337.4" x2="103" y2="339.8" stroke="#222" stroke-width="1.1"/>
<text x="103" y="347.8" text-anchor="middle" class="tk">30</text>
<line x1="115.15" y1="337.4" x2="115.15" y2="339.8" stroke="#222" stroke-width="1.1"/>
<text x="115.15" y="347.8" text-anchor="middle" class="tk">35</text>
<line x1="127.3" y1="337.4" x2="127.3" y2="339.8" stroke="#222" stroke-width="1.1"/>
<text x="127.3" y="347.8" text-anchor="middle" class="tk">40</text>
<line x1="139.45" y1="337.4" x2="139.45" y2="339.8" stroke="#222" stroke-width="1.1"/>
<text x="139.45" y="347.8" text-anchor="middle" class="tk">45</text>
<line x1="151.6" y1="337.4" x2="151.6" y2="339.8" stroke="#222" stroke-width="1.1"/>
<text x="151.6" y="347.8" text-anchor="middle" class="tk">50</text>
<line x1="163.75" y1="337.4" x2="163.75" y2="339.8" stroke="#222" stroke-width="1.1"/>
<text x="163.75" y="347.8" text-anchor="middle" class="tk">55</text>
<line x1="175.9" y1="337.4" x2="175.9" y2="339.8" stroke="#222" stroke-width="1.1"/>
<text x="175.9" y="347.8" text-anchor="middle" class="tk">60</text>
<line x1="188.05" y1="337.4" x2="188.05" y2="339.8" stroke="#222" stroke-width="1.1"/>
<text x="188.05" y="347.8" text-anchor="middle" class="tk">65</text>
<line x1="200.2" y1="337.4" x2="200.2" y2="339.8" stroke="#222" stroke-width="1.1"/>
<text x="200.2" y="347.8" text-anchor="middle" class="tk">70</text>
<line x1="212.35" y1="337.4" x2="212.35" y2="339.8" stroke="#222" stroke-width="1.1"/>
<text x="212.35" y="347.8" text-anchor="middle" class="tk">75</text>
<line x1="224.5" y1="337.4" x2="224.5" y2="339.8" stroke="#222" stroke-width="1.1"/>
<text x="224.5" y="347.8" text-anchor="middle" class="tk">80</text>
<line x1="236.65" y1="337.4" x2="236.65" y2="339.8" stroke="#222" stroke-width="1.1"/>
<text x="236.65" y="347.8" text-anchor="middle" class="tk">85</text>
<line x1="248.8" y1="337.4" x2="248.8" y2="339.8" stroke="#222" stroke-width="1.1"/>
<text x="248.8" y="347.8" text-anchor="middle" class="tk">90</text>
<path d="M309.5 13.7V337.4H543.8" fill="none" stroke="#222" stroke-width="1.2"/>
<line x1="306.8" y1="30.2" x2="309.5" y2="30.2" stroke="#222" stroke-width="1.1"/>
<text x="305" y="33.1" text-anchor="end" class="tk">1.0</text>
<line x1="306.8" y1="92.6" x2="309.5" y2="92.6" stroke="#222" stroke-width="1.1"/>
<text x="305" y="95.5" text-anchor="end" class="tk">0.5</text>
<line x1="306.8" y1="155" x2="309.5" y2="155" stroke="#222" stroke-width="1.1"/>
<text x="305" y="157.9" text-anchor="end" class="tk">0.0</text>
<line x1="306.8" y1="217.4" x2="309.5" y2="217.4" stroke="#222" stroke-width="1.1"/>
<text x="305" y="220.3" text-anchor="end" class="tk">&#8722;0.5</text>
<line x1="306.8" y1="279.8" x2="309.5" y2="279.8" stroke="#222" stroke-width="1.1"/>
<text x="305" y="282.7" text-anchor="end" class="tk">&#8722;1.0</text>
<line x1="314.7" y1="337.4" x2="314.7" y2="339.8" stroke="#222" stroke-width="1.1"/>
<text x="314.7" y="347.8" text-anchor="middle" class="tk">0</text>
<line x1="326.5" y1="337.4" x2="326.5" y2="339.8" stroke="#222" stroke-width="1.1"/>
<text x="326.5" y="347.8" text-anchor="middle" class="tk">5</text>
<line x1="338.3" y1="337.4" x2="338.3" y2="339.8" stroke="#222" stroke-width="1.1"/>
<text x="338.3" y="347.8" text-anchor="middle" class="tk">10</text>
<line x1="350.1" y1="337.4" x2="350.1" y2="339.8" stroke="#222" stroke-width="1.1"/>
<text x="350.1" y="347.8" text-anchor="middle" class="tk">15</text>
<line x1="361.9" y1="337.4" x2="361.9" y2="339.8" stroke="#222" stroke-width="1.1"/>
<text x="361.9" y="347.8" text-anchor="middle" class="tk">20</text>
<line x1="373.7" y1="337.4" x2="373.7" y2="339.8" stroke="#222" stroke-width="1.1"/>
<text x="373.7" y="347.8" text-anchor="middle" class="tk">25</text>
<line x1="385.5" y1="337.4" x2="385.5" y2="339.8" stroke="#222" stroke-width="1.1"/>
<text x="385.5" y="347.8" text-anchor="middle" class="tk">30</text>
<line x1="397.3" y1="337.4" x2="397.3" y2="339.8" stroke="#222" stroke-width="1.1"/>
<text x="397.3" y="347.8" text-anchor="middle" class="tk">35</text>
<line x1="409.1" y1="337.4" x2="409.1" y2="339.8" stroke="#222" stroke-width="1.1"/>
<text x="409.1" y="347.8" text-anchor="middle" class="tk">40</text>
<line x1="420.9" y1="337.4" x2="420.9" y2="339.8" stroke="#222" stroke-width="1.1"/>
<text x="420.9" y="347.8" text-anchor="middle" class="tk">45</text>
<line x1="432.7" y1="337.4" x2="432.7" y2="339.8" stroke="#222" stroke-width="1.1"/>
<text x="432.7" y="347.8" text-anchor="middle" class="tk">50</text>
<line x1="444.5" y1="337.4" x2="444.5" y2="339.8" stroke="#222" stroke-width="1.1"/>
<text x="444.5" y="347.8" text-anchor="middle" class="tk">55</text>
<line x1="456.3" y1="337.4" x2="456.3" y2="339.8" stroke="#222" stroke-width="1.1"/>
<text x="456.3" y="347.8" text-anchor="middle" class="tk">60</text>
<line x1="468.1" y1="337.4" x2="468.1" y2="339.8" stroke="#222" stroke-width="1.1"/>
<text x="468.1" y="347.8" text-anchor="middle" class="tk">65</text>
<line x1="479.9" y1="337.4" x2="479.9" y2="339.8" stroke="#222" stroke-width="1.1"/>
<text x="479.9" y="347.8" text-anchor="middle" class="tk">70</text>
<line x1="491.7" y1="337.4" x2="491.7" y2="339.8" stroke="#222" stroke-width="1.1"/>
<text x="491.7" y="347.8" text-anchor="middle" class="tk">75</text>
<line x1="503.5" y1="337.4" x2="503.5" y2="339.8" stroke="#222" stroke-width="1.1"/>
<text x="503.5" y="347.8" text-anchor="middle" class="tk">80</text>
<line x1="515.3" y1="337.4" x2="515.3" y2="339.8" stroke="#222" stroke-width="1.1"/>
<text x="515.3" y="347.8" text-anchor="middle" class="tk">85</text>
<line x1="527.1" y1="337.4" x2="527.1" y2="339.8" stroke="#222" stroke-width="1.1"/>
<text x="527.1" y="347.8" text-anchor="middle" class="tk">90</text>
<text x="91.5" y="7.9" class="ti">Oral disorders, Incidence</text>
<text x="326.3" y="7.9" class="ti">Oral disorders, Disability-adjusted life years</text>
<text x="145.5" y="359.8" text-anchor="middle" class="at">Age</text>
<text x="426.6" y="359.8" text-anchor="middle" class="at">Age</text>
<text transform="translate(8.4,174.8) rotate(-90)" text-anchor="middle" class="at">Percent per Year</text>
<text transform="translate(285.9,174.9) rotate(-90)" text-anchor="middle" class="at">Percent per Year</text>
<line x1="588.8" y1="128.4" x2="596.4" y2="128.4" stroke="#1e5597" stroke-width="2.0"/>
<circle cx="592.6" cy="128.4" r="1.85" fill="#1e5597"/>
<text x="599.9" y="131.4" class="lg">Global</text>
<line x1="588.8" y1="137.6" x2="596.4" y2="137.6" stroke="#4dae4a" stroke-width="2.0"/>
<circle cx="592.6" cy="137.6" r="1.85" fill="#4dae4a"/>
<text x="599.9" y="140.6" class="lg">High SDI</text>
<line x1="588.8" y1="146.8" x2="596.4" y2="146.8" stroke="#e2262d" stroke-width="2.0"/>
<circle cx="592.6" cy="146.8" r="1.85" fill="#e2262d"/>
<text x="599.9" y="149.8" class="lg">High&#8722;middle SDI</text>
<line x1="588.8" y1="156" x2="596.4" y2="156" stroke="#f5a584" stroke-width="2.0"/>
<circle cx="592.6" cy="156" r="1.85" fill="#f5a584"/>
<text x="599.9" y="159" class="lg">Middle SDI</text>
<line x1="588.8" y1="165.2" x2="596.4" y2="165.2" stroke="#3399b3" stroke-width="2.0"/>
<circle cx="592.6" cy="165.2" r="1.85" fill="#3399b3"/>
<text x="599.9" y="168.2" class="lg">Low&#8722;middle SDI</text>
<line x1="588.8" y1="174.4" x2="596.4" y2="174.4" stroke="#8a63a2" stroke-width="2.0"/>
<circle cx="592.6" cy="174.4" r="1.85" fill="#8a63a2"/>
<text x="599.9" y="177.4" class="lg">Low SDI</text>
<line x1="572.7" y1="195.8" x2="582.4" y2="195.8" stroke="#1e5597" stroke-width="1.95"/>
<line x1="585.3" y1="195.8" x2="594.9" y2="195.8" stroke="#1e5597" stroke-width="1.95"/>
<text x="599.3" y="198.8" class="lg">Net drift-Global</text>
<line x1="572.7" y1="205" x2="582.4" y2="205" stroke="#4dae4a" stroke-width="1.95"/>
<line x1="585.3" y1="205" x2="594.9" y2="205" stroke="#4dae4a" stroke-width="1.95"/>
<text x="599.3" y="208" class="lg">Net drift-High SDI</text>
<line x1="572.7" y1="214.3" x2="582.4" y2="214.3" stroke="#e2262d" stroke-width="1.95"/>
<line x1="585.3" y1="214.3" x2="594.9" y2="214.3" stroke="#e2262d" stroke-width="1.95"/>
<text x="599.3" y="217.3" class="lg">Net drift-High&#8722;middle SDI</text>
<line x1="572.7" y1="223.6" x2="582.4" y2="223.6" stroke="#f5a584" stroke-width="1.95"/>
<line x1="585.3" y1="223.6" x2="594.9" y2="223.6" stroke="#f5a584" stroke-width="1.95"/>
<text x="599.3" y="226.6" class="lg">Net drift-Middle SDI</text>
<line x1="572.7" y1="232.9" x2="582.4" y2="232.9" stroke="#3399b3" stroke-width="1.95"/>
<line x1="585.3" y1="232.9" x2="594.9" y2="232.9" stroke="#3399b3" stroke-width="1.95"/>
<text x="599.3" y="235.9" class="lg">Net drift-Low&#8722;middle SDI</text>
<line x1="572.7" y1="242.1" x2="582.4" y2="242.1" stroke="#8a63a2" stroke-width="1.95"/>
<line x1="585.3" y1="242.1" x2="594.9" y2="242.1" stroke="#8a63a2" stroke-width="1.95"/>
<text x="599.3" y="245.1" class="lg">Net drift-Low SDI</text>
</svg>
</body></html>
